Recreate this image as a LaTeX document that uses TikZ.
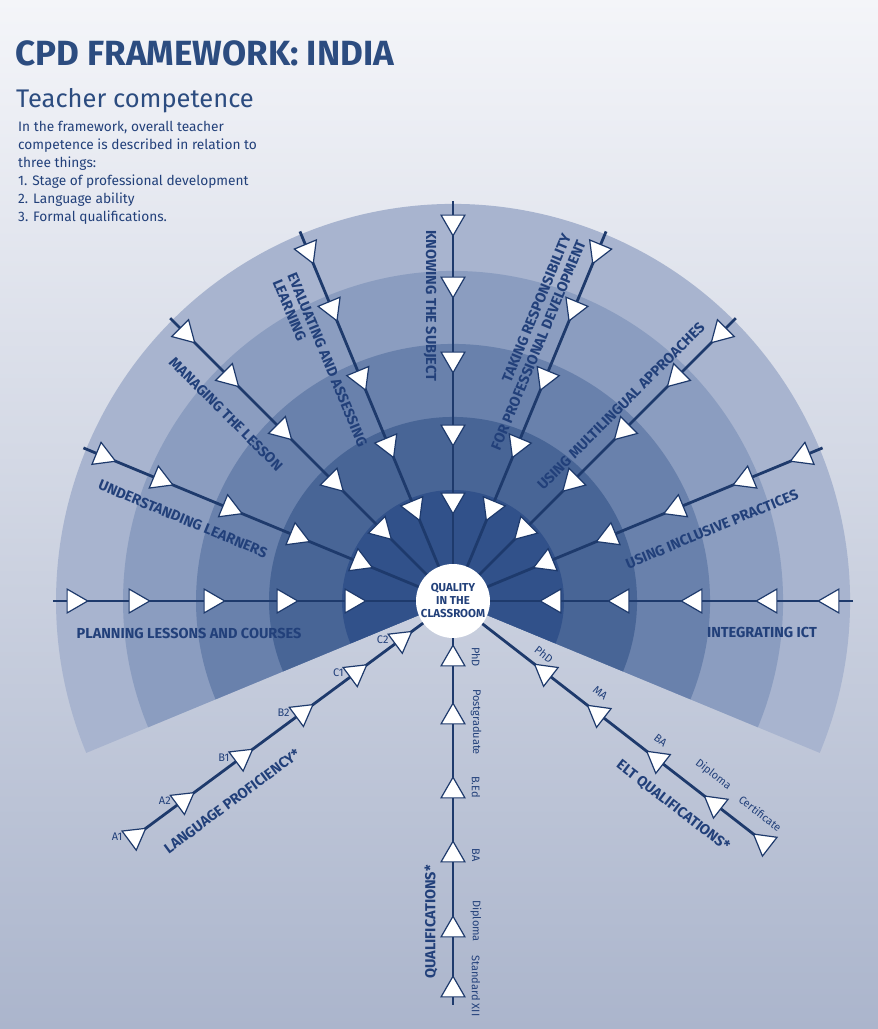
\documentclass[tikz,border=0pt]{standalone}
\usepackage{fontspec}
\setmainfont{Fira Sans}
\usetikzlibrary{shapes.geometric}

\definecolor{navy}{HTML}{1E3A6C}
\definecolor{inkblue}{HTML}{22407A}
\definecolor{titleblue}{HTML}{2C4C80}
\definecolor{bandA}{HTML}{31518A}
\definecolor{bandB}{HTML}{486596}
\definecolor{bandC}{HTML}{6981AC}
\definecolor{bandD}{HTML}{8B9DC0}
\definecolor{bandE}{HTML}{A8B4CF}
\definecolor{bgtop}{HTML}{F4F5F9}
\definecolor{bgmid}{HTML}{E5E8F0}
\definecolor{bgbot}{HTML}{ABB5CC}

\begin{document}
\begin{tikzpicture}[x=1pt, y=1pt,
    spoke/.style={draw=navy, line width=2.8pt},
    tri/.style={regular polygon, regular polygon sides=3, draw=navy, fill=white, line width=1.2pt, minimum size=27.5pt, inner sep=0pt},
    theme/.style={text=inkblue, inner sep=0pt, font=\bfseries\fontsize{14.5}{16}\selectfont},
    level/.style={text=inkblue, inner sep=0pt, font=\fontsize{11}{13}\selectfont}]

    % Background with a soft vertical gradient
    \useasboundingbox (0,0) rectangle (878,1029);
    \shade[top color=bgtop, middle color=bgmid, bottom color=bgbot] (0,0) rectangle (878,1029);

    % Heading and introduction
    \node[anchor=base west, inner sep=0pt, text=titleblue, font=\bfseries\fontsize{35}{38}\selectfont] (Title) at (15,963) {CPD FRAMEWORK: INDIA};
    \node[anchor=base west, inner sep=0pt, text=titleblue, font=\fontsize{25.5}{30}\selectfont] (Sub) at (16,921) {Teacher competence};
    \node[anchor=north west, inner sep=0pt, align=left, text=inkblue, font=\fontsize{13.7}{18}\selectfont] (Intro) at (18,908) {In the framework, overall teacher\\competence is described in relation to\\three things:\\1. Stage of professional development\\2. Language ability\\3. Formal qualifications.};

    % Concentric bands of the fan, outermost first
    \coordinate (O) at (453,428);
    \fill[bandE] (O) -- ++(-22.5:397) arc[start angle=-22.5, end angle=202.5, radius=397] -- cycle;
    \fill[bandD] (O) -- ++(-22.5:330) arc[start angle=-22.5, end angle=202.5, radius=330] -- cycle;
    \fill[bandC] (O) -- ++(-22.5:257) arc[start angle=-22.5, end angle=202.5, radius=257] -- cycle;
    \fill[bandB] (O) -- ++(-22.5:184) arc[start angle=-22.5, end angle=202.5, radius=184] -- cycle;
    \fill[bandA] (O) -- ++(-22.5:111) arc[start angle=-22.5, end angle=202.5, radius=111] -- cycle;

    % Centre
    \node[circle, fill=white, minimum size=74pt, inner sep=0pt, align=center, text=inkblue, font=\bfseries\fontsize{11.5}{13}\selectfont] (Quality) at (O) {QUALITY\\IN THE\\CLASSROOM};

    % Nine spokes, five stages on each
    \foreach \a [count=\i] in {180,157.5,135,112.5,90,67.5,45,22.5,0} {
        \coordinate (S\i) at ([shift={(\a:400)}]O);
        \draw[spoke] (S\i) -- (Quality);
        \foreach \r [count=\j] in {101,169,242,317,379}
            \node[tri, rotate=\a+90] (S\i-\j) at ([shift={(\a:\r)}]O) {};
    }

    % Competences along the spokes
    \node[theme] (Planning) at (189,396) {PLANNING LESSONS AND COURSES};
    \node[theme, rotate=-22.5] (Understanding) at (183,510) {UNDERSTANDING LEARNERS};
    \node[theme, rotate=-45] (Managing) at (226,615) {MANAGING THE LESSON};
    \node[theme, rotate=-67.5, align=left] (Evaluating) at (320,666) {EVALUATING AND ASSESSING\\LEARNING};
    \node[theme, rotate=-90] (Knowing) at (430,723) {KNOWING THE SUBJECT};
    \node[theme, rotate=67.5, align=right] (Taking) at (531,687) {TAKING RESPONSIBILITY\\FOR PROFESSIONAL DEVELOPMENT};
    \node[theme, rotate=45] (Multilingual) at (621,623) {USING MULTILINGUAL APPROACHES};
    \node[theme, rotate=22.5] (Inclusive) at (712,500) {USING INCLUSIVE PRACTICES};
    \node[theme] (ICT) at (762,397) {INTEGRATING ICT};

    % Language proficiency
    \coordinate (LangEnd) at ([shift={(216.5:400)}]O);
    \draw[spoke] (LangEnd) -- (Quality);
    \foreach \r/\l [count=\j] in {396/A1,336/A2,263/B1,188/B2,121/C1,65/C2} {
        \node[tri, rotate=306.5] (L\j) at ([shift={(216.5:\r)}]O) {};
        \node[level, anchor=east] at ([xshift=-12pt]L\j.center) {\l};
    }
    \node[theme, rotate=36.5] (Language) at (232,228) {LANGUAGE PROFICIENCY*};

    % Formal qualifications
    \coordinate (QualEnd) at ([shift={(270:404)}]O);
    \draw[spoke] (QualEnd) -- (Quality);
    \foreach \r/\l/\d [count=\j] in {58/PhD/2,116/Postgraduate/-5,190/B.Ed/4,254/BA/0,329/Diploma/9,389/Standard XII/4} {
        \node[tri] (Q\j) at ([shift={(270:\r)}]O) {};
        \node[level, rotate=-90] at ([shift={(23,\d)}]Q\j.center) {\l};
    }
    \node[theme, rotate=90] (Qualifications) at (431,107) {QUALIFICATIONS*};

    % ELT qualifications
    \coordinate (EltEnd) at ([shift={(-37.8:400)}]O);
    \draw[spoke] (EltEnd) -- (Quality);
    \foreach \r/\l/\dx/\dy [count=\j] in {117/PhD/-1.5/18.5,184/MA/2/21,259/BA/3/19,332/Diploma/-2/30,394/Certificate/-4/29} {
        \node[tri, rotate=52.2] (E\j) at ([shift={(-37.8:\r)}]O) {};
        \node[level, rotate=-37.8] at ([shift={(\dx,\dy)}]E\j.center) {\l};
    }
    \node[theme, rotate=-37.8] (Elt) at (673,223) {ELT QUALIFICATIONS*};

\end{tikzpicture}
\end{document}
